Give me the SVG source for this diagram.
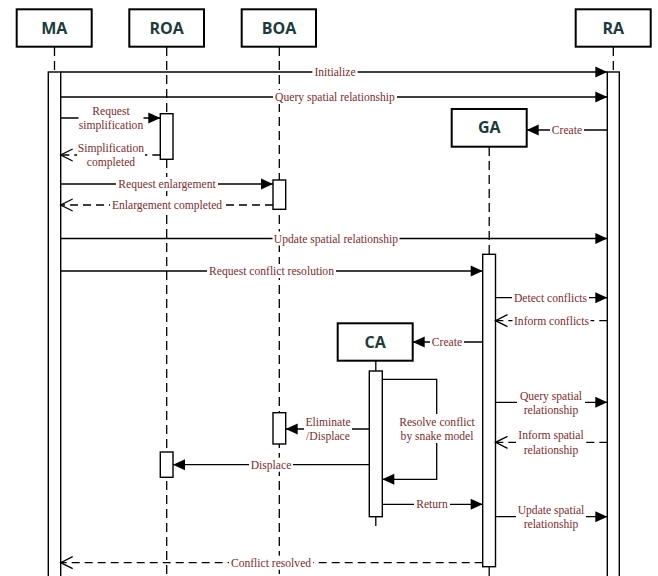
<svg xmlns="http://www.w3.org/2000/svg" width="658" height="576" viewBox="0 0 658 576">
<style>
.box{fill:#fff;stroke:#000;stroke-width:2}
.hd{font-family:"Open Sans","DejaVu Sans",sans-serif;font-weight:bold;font-size:16px;fill:#1d3b3b;text-anchor:middle}
.life{stroke:#000;stroke-width:1.3;stroke-dasharray:9,5;fill:none}
.act{fill:#fff;stroke:#000;stroke-width:1.4}
.msg{stroke:#000;stroke-width:1.3;fill:none}
.ret{stroke:#000;stroke-width:1.3;fill:none;stroke-dasharray:8,5}
.lb{font-family:"Liberation Serif","Times New Roman",serif;font-size:11.6px;fill:#7b2d2d;text-anchor:middle}
.bg{fill:#fff}
</style>
<defs>
<marker id="fa" markerUnits="userSpaceOnUse" markerWidth="13" markerHeight="12" refX="12" refY="5.5" orient="auto" overflow="visible"><path d="M0,0 L12,5.5 L0,11 z" fill="#000"/></marker>
<marker id="oa" markerUnits="userSpaceOnUse" markerWidth="13" markerHeight="13" refX="12" refY="6" orient="auto" overflow="visible"><path d="M0,0 L12,6 L0,12" fill="none" stroke="#000" stroke-width="1.3"/></marker>
</defs>
<rect width="658" height="576" fill="#fff"/>

<g id="MA">
<line class="life" x1="54.5" y1="47" x2="54.5" y2="72"/>
<rect class="box" x="16.7" y="9.3" width="75" height="37.4"/>
<text class="hd" x="54.2" y="33.5">MA</text>
<rect class="act" x="48.3" y="72" width="12.4" height="510"/>
</g>
<g id="ROA">
<line class="life" x1="166.7" y1="47" x2="166.7" y2="576"/>
<rect class="box" x="129.3" y="9.3" width="74.7" height="37.4"/>
<text class="hd" x="166.7" y="33.5">ROA</text>
<rect class="act" x="160.3" y="113.7" width="12.7" height="45.6"/>
<rect class="act" x="160.3" y="452" width="12.7" height="25.3"/>
</g>
<g id="BOA">
<line class="life" x1="279.3" y1="47" x2="279.3" y2="576"/>
<rect class="box" x="241.7" y="9.3" width="74.3" height="37.4"/>
<text class="hd" x="279" y="33.5">BOA</text>
<rect class="act" x="273" y="180" width="12.7" height="29.3"/>
<rect class="act" x="273" y="412.7" width="12.7" height="31.3"/>
</g>
<g id="RA">
<line class="life" x1="613.3" y1="47" x2="613.3" y2="72"/>
<rect class="box" x="575.7" y="9.3" width="75" height="37.4"/>
<text class="hd" x="613.2" y="33.5">RA</text>
<rect class="act" x="607.3" y="72" width="12" height="510"/>
</g>
<g id="GA">
<line class="life" x1="489.2" y1="147" x2="489.2" y2="254"/>
<line class="life" x1="489.2" y1="567" x2="489.2" y2="580"/>
<rect class="box" x="451.7" y="109" width="75" height="37.7"/>
<text class="hd" x="489.2" y="133.3">GA</text>
<rect class="act" x="482.7" y="254.3" width="12.8" height="312.4"/>
</g>
<g id="CA">
<line class="msg" x1="375.8" y1="361" x2="375.8" y2="371"/>
<line class="life" x1="375.8" y1="517" x2="375.8" y2="530"/>
<rect class="box" x="337.7" y="323.3" width="75" height="37.4"/>
<text class="hd" x="375.2" y="347.5">CA</text>
<rect class="act" x="369.3" y="371" width="13" height="145.7"/>
</g>

<g id="connectors">
<line class="msg" x1="60.7" y1="72" x2="607.3" y2="72" marker-end="url(#fa)"/>
<line class="msg" x1="60.7" y1="97" x2="607.3" y2="97" marker-end="url(#fa)"/>
<line class="msg" x1="60.7" y1="118" x2="160.3" y2="118" marker-end="url(#fa)"/>
<line class="ret" x1="160.3" y1="155" x2="60.7" y2="155" marker-end="url(#oa)"/>
<line class="msg" x1="60.7" y1="184" x2="273" y2="184" marker-end="url(#fa)"/>
<line class="ret" x1="273" y1="205" x2="60.7" y2="205" marker-end="url(#oa)"/>
<line class="msg" x1="607.3" y1="130" x2="526.7" y2="130" marker-end="url(#fa)"/>
<line class="msg" x1="60.7" y1="238.5" x2="607.3" y2="238.5" marker-end="url(#fa)"/>
<line class="msg" x1="60.7" y1="271" x2="482.7" y2="271" marker-end="url(#fa)"/>
<line class="msg" x1="495.5" y1="297.7" x2="607.3" y2="297.7" marker-end="url(#fa)"/>
<line class="ret" x1="607.3" y1="320.7" x2="495.5" y2="320.7" marker-end="url(#oa)"/>
<line class="msg" x1="482.7" y1="342" x2="412.7" y2="342" marker-end="url(#fa)"/>
<path class="msg" d="M382.3,379.3 H436.7 V479.3 H382.3" marker-end="url(#fa)"/>
<line class="msg" x1="495.5" y1="402.3" x2="607.3" y2="402.3" marker-end="url(#fa)"/>
<line class="ret" x1="607.3" y1="442.3" x2="495.5" y2="442.3" marker-end="url(#oa)"/>
<line class="msg" x1="369.3" y1="429" x2="285.7" y2="429" marker-end="url(#fa)"/>
<line class="msg" x1="369.3" y1="464.7" x2="173" y2="464.7" marker-end="url(#fa)"/>
<line class="msg" x1="382.3" y1="504.3" x2="482.7" y2="504.3" marker-end="url(#fa)"/>
<line class="msg" x1="495.5" y1="516.7" x2="607.3" y2="516.7" marker-end="url(#fa)"/>
<line class="ret" x1="482.7" y1="562.7" x2="60.7" y2="562.7" marker-end="url(#oa)"/>

<rect class="bg" x="312.4" y="65" width="45.2" height="14"/>
<text class="lb" x="335" y="76">Initialize</text>
<rect class="bg" x="273" y="90" width="124" height="14"/>
<text class="lb" x="335" y="101">Query spatial relationship</text>
<rect class="bg" x="78.5" y="104" width="65" height="28"/>
<text class="lb" x="111" y="115">Request</text>
<text class="lb" x="111" y="129">simplification</text>
<rect class="bg" x="77" y="141" width="68" height="28"/>
<text class="lb" x="111" y="152">Simplification</text>
<text class="lb" x="111" y="166">completed</text>
<rect class="bg" x="116" y="177" width="102" height="14"/>
<text class="lb" x="167" y="188">Request enlargement</text>
<rect class="bg" x="110" y="198" width="114" height="14"/>
<text class="lb" x="167" y="209">Enlargement completed</text>
<rect class="bg" x="550" y="123" width="34" height="14"/>
<text class="lb" x="567" y="134">Create</text>
<rect class="bg" x="272.5" y="231.5" width="127" height="14"/>
<text class="lb" x="336" y="242.5">Update spatial relationship</text>
<rect class="bg" x="207" y="264" width="129" height="14"/>
<text class="lb" x="271.5" y="275">Request conflict resolution</text>
<rect class="bg" x="512" y="290.7" width="77" height="14"/>
<text class="lb" x="550.5" y="301.7">Detect conflicts</text>
<rect class="bg" x="512.5" y="313.7" width="78" height="14"/>
<text class="lb" x="551.5" y="324.7">Inform conflicts</text>
<rect class="bg" x="430" y="335" width="34" height="14"/>
<text class="lb" x="447" y="346">Create</text>
<rect class="bg" x="398" y="414" width="78" height="29"/>
<text class="lb" x="437" y="426">Resolve conflict</text>
<text class="lb" x="437" y="440">by snake model</text>
<rect class="bg" x="517" y="389" width="68" height="28"/>
<text class="lb" x="551" y="400">Query spatial</text>
<text class="lb" x="551" y="414">relationship</text>
<rect class="bg" x="516" y="428" width="70" height="29"/>
<text class="lb" x="551" y="439">Inform spatial</text>
<text class="lb" x="551" y="453.5">relationship</text>
<rect class="bg" x="516" y="503" width="70" height="28"/>
<text class="lb" x="551" y="514">Update spatial</text>
<text class="lb" x="551" y="528">relationship</text>
<rect class="bg" x="304" y="415" width="48" height="28"/>
<text class="lb" x="328" y="425.7">Eliminate</text>
<text class="lb" x="328" y="440">/Displace</text>
<rect class="bg" x="249" y="457.7" width="44" height="14"/>
<text class="lb" x="271" y="468.7">Displace</text>
<rect class="bg" x="414" y="497.3" width="36" height="14"/>
<text class="lb" x="432" y="508.3">Return</text>
<rect class="bg" x="229" y="555.7" width="84" height="14"/>
<text class="lb" x="271" y="566.7">Conflict resolved</text>
</g>
</svg>
